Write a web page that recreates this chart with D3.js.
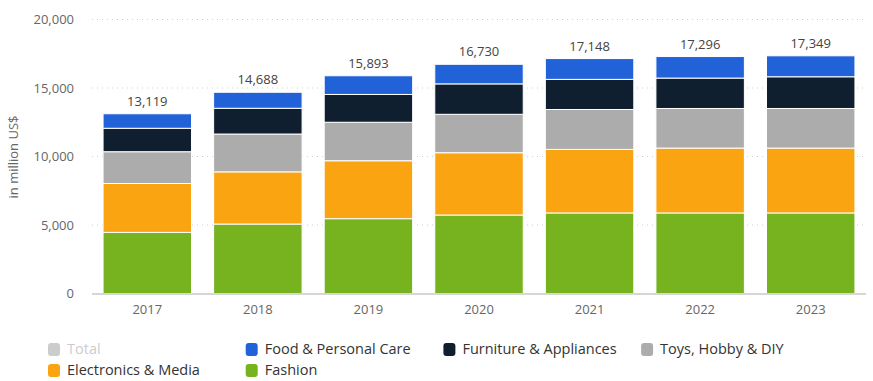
<!DOCTYPE html>
<html><head><meta charset="utf-8">
<script src="https://cdn.jsdelivr.net/npm/d3@7"></script>
<style>body{margin:0;background:#fff;}svg{display:block;font-family:"Open Sans",sans-serif;}</style>
</head><body><svg id="c" width="873" height="381"></svg>
<script>
const years = ["2017","2018","2019","2020","2021","2022","2023"];
const fashion = [4460,5070,5460,5730,5880,5880,5880];
const electronics = [3570,3810,4230,4545,4640,4735,4735];
const toys = [2320,2760,2810,2805,2910,2890,2890];
const furniture = [1710,1880,2030,2220,2200,2220,2315];
const food = [1059,1168,1363,1430,1518,1571,1529];
const totals = [13119,14688,15893,16730,17148,17296,17349];
const yTicks = [0,5000,10000,15000,20000];
const seriesNames = ["Fashion","Electronics & Media","Toys, Hobby & DIY","Furniture & Appliances","Food & Personal Care"];
const seriesColors = ["#77b21f","#fba411","#acacac","#0f1f30","#2162d8"];
const legendItems = ["Total","Food & Personal Care","Furniture & Appliances","Toys, Hobby & DIY","Electronics & Media","Fashion"];
const legendColors = ["#cccccc","#2162d8","#0f1f30","#acacac","#fba411","#77b21f"];

const svg = d3.select("#c");
const x = d3.scaleBand().domain(years).range([92,866]).paddingInner(0.2).paddingOuter(0.1);
const y = d3.scaleLinear().domain([0,20000]).range([293.5,19.5]);

// gridlines
svg.append("g").selectAll("line").data(yTicks.filter(d=>d>0)).join("line")
  .attr("x1",92).attr("x2",866).attr("y1",d=>y(d)).attr("y2",d=>y(d))
  .attr("stroke","#cfcfcf").attr("stroke-width",1).attr("stroke-dasharray","1,4");

// y axis labels
const yAxis = d3.axisLeft(y).tickValues(yTicks).tickFormat(d3.format(",")).tickSize(0).tickPadding(0);
const ya = svg.append("g").attr("transform","translate(74,0)").call(yAxis);
ya.select(".domain").remove();
ya.selectAll("text").attr("fill","#666").style("font-size","13px").style("font-family","Open Sans");

// stacks
const rows = years.map((yr,i)=>({year:yr,"Fashion":fashion[i],"Electronics & Media":electronics[i],"Toys, Hobby & DIY":toys[i],"Furniture & Appliances":furniture[i],"Food & Personal Care":food[i]}));
const stack = d3.stack().keys(seriesNames)(rows);
svg.append("g").selectAll("g").data(stack).join("g")
  .attr("fill",(d,i)=>seriesColors[i])
  .selectAll("rect").data(d=>d).join("rect")
  .attr("x",d=>x(d.data.year)).attr("width",x.bandwidth())
  .attr("y",d=>y(d[1])).attr("height",d=>y(d[0])-y(d[1]))
  .attr("stroke","#fff").attr("stroke-width",1);

// baseline
svg.append("line").attr("x1",92).attr("x2",866).attr("y1",y(0)+0.5).attr("y2",y(0)+0.5)
  .attr("stroke","#c8c8c8").attr("stroke-width",1.5);

// x axis
const xAxis = d3.axisBottom(x).tickSize(0).tickPadding(0);
const xa = svg.append("g").attr("transform","translate(0,305)").call(xAxis);
xa.select(".domain").remove();
xa.selectAll("text").attr("fill","#666").style("font-size","13px").style("font-family","Open Sans").attr("dy","0.71em");

// value labels
svg.append("g").selectAll("text").data(years).join("text")
  .attr("x",d=>x(d)+x.bandwidth()/2).attr("y",(d,i)=>y(totals[i])-8)
  .attr("text-anchor","middle").attr("fill","#444").style("font-size","13px")
  .text((d,i)=>d3.format(",")(totals[i]));

// y label
svg.append("text").attr("transform","translate(18,157) rotate(-90)")
  .attr("text-anchor","middle").attr("fill","#666").style("font-size","13px")
  .text("in million US$");

// legend
const lg = svg.append("g").selectAll("g").data(legendItems).join("g")
  .attr("transform",(d,i)=>`translate(${48+(i%4)*197.7},${i<4?349:370})`);
lg.append("rect").attr("x",0).attr("y",-6).attr("width",12).attr("height",13).attr("rx",3)
  .attr("fill",(d,i)=>legendColors[i]);
lg.append("text").attr("x",19).attr("y",0).attr("dy","0.35em")
  .attr("fill",(d,i)=>i===0?"#cccccc":"#333").style("font-size","14.5px")
  .text(d=>d);
</script></body></html>
